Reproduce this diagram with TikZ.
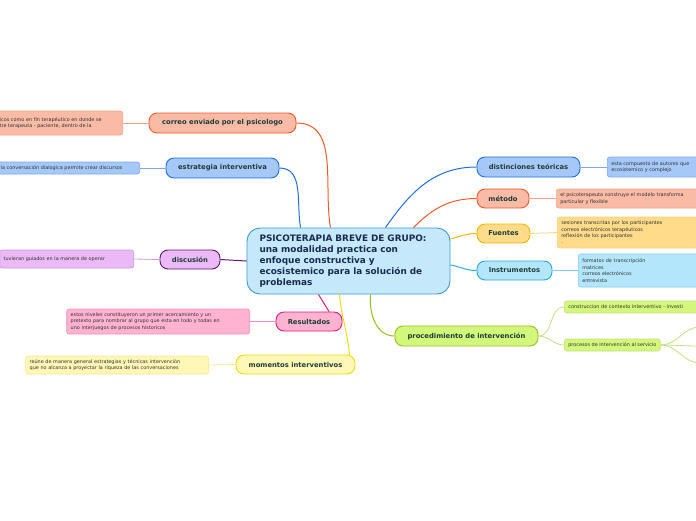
\documentclass[tikz,border=0pt]{standalone}
\usepackage{fontspec}
\setmainfont{DejaVu Sans}
\usepackage{xcolor}
\usepackage{tikz}
\usetikzlibrary{positioning}

\definecolor{txtdark}{HTML}{1F3D38}
\definecolor{txtgray}{HTML}{333333}
\definecolor{ttlnavy}{HTML}{1A2A4F}
\definecolor{ctrfill}{HTML}{C5E9FA}
\definecolor{ctrline}{HTML}{3D9AD6}
\definecolor{orafill}{HTML}{F9BBA6}
\definecolor{oraline}{HTML}{F05A28}
\definecolor{oralite}{HTML}{F5A488}
\definecolor{blufill}{HTML}{A6C8F8}
\definecolor{bluline}{HTML}{1E6FD9}
\definecolor{blulite}{HTML}{7DAAF0}
\definecolor{purfill}{HTML}{EBB9F5}
\definecolor{purline}{HTML}{5E1766}
\definecolor{purlite}{HTML}{C79BD6}
\definecolor{pnkfill}{HTML}{FFB3D1}
\definecolor{pnkline}{HTML}{E8177A}
\definecolor{pnklite}{HTML}{F58FBA}
\definecolor{yelfill}{HTML}{FFF7B5}
\definecolor{yelline}{HTML}{F2D80F}
\definecolor{yellite}{HTML}{F5E98F}
\definecolor{limfill}{HTML}{D3F77B}
\definecolor{limline}{HTML}{92C01F}
\definecolor{limlite}{HTML}{C2E07E}
\definecolor{fuefill}{HTML}{FFDB8A}
\definecolor{fueline}{HTML}{F6B400}
\definecolor{fuelite}{HTML}{FAD27A}
\definecolor{cyafill}{HTML}{B3E6FA}
\definecolor{cyaline}{HTML}{27A9E1}
\definecolor{cyalite}{HTML}{7FCBEE}

\begin{document}
\begin{tikzpicture}[x=1pt,y=1pt,
  branch/.style={draw,line width=0.9pt,rounded corners=8pt,text=txtdark,
    font=\fontsize{6.8}{7.5}\selectfont\bfseries,inner sep=0pt},
  leaf/.style={draw,line width=0.6pt,rounded corners=2.5pt,text=txtgray,
    font=\fontsize{4.9}{6.4}\selectfont,align=left,inner sep=4pt},
  link/.style={line width=1pt},
  twig/.style={line width=0.8pt}]
  \useasboundingbox (0,0) rectangle (696,-520);
  \clip (0,0) rectangle (696,-520);

  % central topic
  \node[draw=ctrline,fill=ctrfill,line width=0.9pt,rounded corners=13pt,
    minimum width=203pt,minimum height=66pt,text width=178pt,inner xsep=12.5pt,
    text=ttlnavy,align=left,font=\fontsize{8.9}{11}\selectfont\bfseries] (ctr) at (348.5,-261)
    {PSICOTERAPIA BREVE DE GRUPO:\\una modalidad practica con\\enfoque constructiva y\\ecosistemico para la solución de\\problemas};

  % left branches
  \node[branch,draw=oraline,fill=orafill,minimum width=147pt,minimum height=20pt] (corr) at (222.5,-123) {correo enviado por el psicologo};
  \node[branch,draw=bluline,fill=blufill,minimum width=113pt,minimum height=20pt] (estr) at (222.5,-168) {estrategia interventiva};
  \node[branch,draw=purline,fill=purfill,minimum width=60pt,minimum height=19pt] (disc) at (190,-259.5) {discusión};
  \node[branch,draw=pnkline,fill=pnkfill,minimum width=66pt,minimum height=19pt] (res) at (309,-321.5) {Resultados};
  \node[branch,draw=yelline,fill=yelfill,minimum width=119pt,minimum height=19pt] (mom) at (295.5,-364.5) {momentos interventivos};

  % right branches
  \node[branch,draw=bluline,fill=blufill,minimum width=103pt,minimum height=20pt] (dist) at (528.5,-167) {distinciones teóricas};
  \node[branch,draw=oraline,fill=orafill,minimum width=52pt,minimum height=19pt] (met) at (503,-198.5) {método};
  \node[branch,draw=fueline,fill=fuefill,minimum width=53pt,minimum height=19pt] (fue) at (503.5,-233.5) {Fuentes};
  \node[branch,draw=cyaline,fill=cyafill,minimum width=75pt,minimum height=19pt] (ins) at (514.5,-270.5) {Instrumentos};
  \node[branch,draw=limline,fill=limfill,minimum width=143pt,minimum height=20pt] (proc) at (466.5,-336) {procedimiento de intervención};

  % details, left side
  \node[leaf,draw=oralite,fill=orafill,anchor=east,text width=119pt,minimum height=24pt] (corrtxt) at (123,-123)
    {icos como en fin terapéutico en donde se\\tre terapeuta - paciente, dentro de la};
  \node[leaf,draw=blulite,fill=blufill,anchor=east,text width=135pt,minimum height=12pt,inner ysep=2pt] (estrtxt) at (140,-168)
    {la conversación dialogica permite crear discursos};
  \node[leaf,draw=purlite,fill=purfill,anchor=east,text width=126pt,minimum height=18pt] (disctxt) at (134,-259)
    {tuvieran guiados en la manera de operar};
  \node[leaf,draw=pnklite,fill=pnkfill,anchor=east,text width=175pt,minimum height=25pt,inner ysep=2pt] (restxt) at (250,-321.5)
    {estos niveles constituyeron un primer acercamiento y un\\pretexto para nombrar al grupo que esta en todo y todas en\\uno interjuegos de procesos historicos};
  \node[leaf,draw=yellite,fill=yelfill,anchor=east,text width=175pt,minimum height=18pt,inner ysep=2pt] (momtxt) at (209,-365)
    {reúne de manera general estrategias y técnicas intervención\\que no alcanza a proyectar la riqueza de las conversaciones};

  % details, right side
  \node[leaf,draw=blulite,fill=blufill,anchor=west,text width=120pt,minimum height=20pt,inner ysep=2pt] (disttxt) at (607,-167)
    {esta compuesto de autores que\\ecosistemico y complejo};
  \node[leaf,draw=oralite,fill=orafill,anchor=west,text width=150pt,minimum height=19pt,inner ysep=2pt] (mettxt) at (556,-198.5)
    {el psicoterapeuta construye el modelo transforma\\particular y flexible};
  \node[leaf,draw=fuelite,fill=fuefill,anchor=west,text width=150pt,minimum height=31pt,inner ysep=2pt] (fuetxt) at (557,-232.5)
    {sesiones transcritas por los participantes\\correos electrónicos terapéuticos\\reflexión de los participantes\\.};
  \node[leaf,draw=cyalite,fill=cyafill,anchor=west,text width=130pt,minimum height=33pt,inner ysep=2pt] (instxt) at (578,-270.5)
    {formatos de transcripción\\matrices\\correos electrónicos\\entrevista};
  \node[leaf,draw=limlite,fill=limfill,anchor=west,text width=150pt,minimum height=12pt,inner ysep=2pt] (proc1) at (564,-307)
    {construccion de contexto interventivo - investi};
  \node[leaf,draw=limlite,fill=limfill,anchor=west,minimum height=12pt,inner ysep=2pt] (proc2) at (564,-345)
    {procesos de intervención al servicio};
  \coordinate (p2a) at (700,-327);
  \coordinate (p2b) at (700,-346);
  \coordinate (p2c) at (700,-363);

  % connectors from the centre
  \draw[link,oraline] (corr.east) to[out=0,in=100] ([xshift=-18pt]ctr.north);
  \draw[link,bluline] (estr.east) to[out=0,in=100] ([xshift=-48pt]ctr.north);
  \draw[link,purline] (disc.east) -- (ctr.west);
  \draw[link,pnkline] ([xshift=-30pt]ctr.south) -- ([xshift=20pt]res.north);
  \draw[link,yelline] ([xshift=-9pt]ctr.south) to[out=-85,in=95] ([xshift=-6pt]mom.north east);
  \draw[link,limline] ([xshift=22pt]ctr.south) to[out=-95,in=180] (proc.west);
  \draw[link,bluline] ([xshift=37pt]ctr.north) to[out=55,in=180] (dist.west);
  \draw[link,oraline] ([xshift=65pt]ctr.north) to[out=45,in=180] (met.west);
  \draw[link,fueline] ([yshift=22pt]ctr.east) to[out=15,in=180] (fue.west);
  \draw[link,cyaline] ([yshift=-4pt]ctr.east) to[out=-10,in=180] (ins.west);

  % connectors to the details
  \draw[twig,oralite] (corr.west) -- (corrtxt.east);
  \draw[twig,blulite] (estr.west) -- (estrtxt.east);
  \draw[twig,purlite] (disc.west) -- (disctxt.east);
  \draw[twig,pnklite] (res.west) -- (restxt.east);
  \draw[twig,yellite] (mom.west) -- (momtxt.east);
  \draw[twig,blulite] (dist.east) -- (disttxt.west);
  \draw[twig,oralite] (met.east) -- (mettxt.west);
  \draw[twig,fuelite] (fue.east) -- (fuetxt.west);
  \draw[twig,cyalite] (ins.east) -- (instxt.west);
  \draw[twig,limlite] (proc.east) to[out=0,in=180] (proc1.west);
  \draw[twig,limlite] (proc.east) to[out=0,in=180] (proc2.west);
  \draw[twig,limlite] (proc2.east) to[out=0,in=180] (p2a);
  \draw[twig,limlite] (proc2.east) to[out=0,in=180] (p2b);
  \draw[twig,limlite] (proc2.east) to[out=0,in=180] (p2c);
\end{tikzpicture}
\end{document}
